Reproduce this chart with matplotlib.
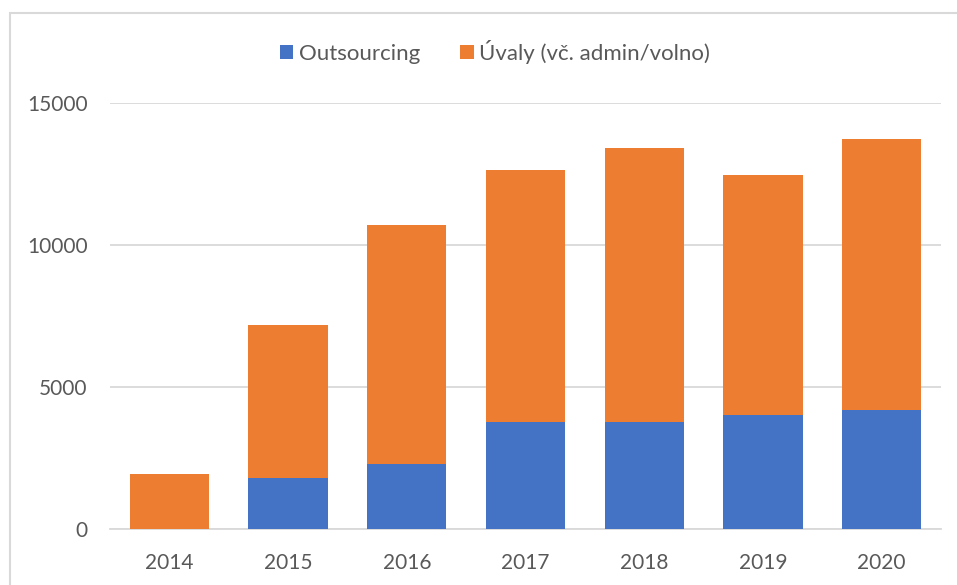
import matplotlib.pyplot as plt
from matplotlib.patches import Rectangle
import numpy as np

plt.rcParams['font.family'] = ['Lato', 'DejaVu Sans']

years = ["2014", "2015", "2016", "2017", "2018", "2019", "2020"]
outsourcing = [0, 1800, 2300, 3780, 3780, 4000, 4200]
uvaly = [1930, 5400, 8400, 8860, 9650, 8470, 9540]

BLUE, ORANGE, GRID, TXT = "#4472C4", "#ED7D31", "#D9D9D9", "#595959"

fig = plt.figure(figsize=(9.57, 5.85), dpi=100)
ax = fig.add_axes([110 / 957, 56 / 585, 831 / 957, 426 / 585])

x = np.arange(len(years))
ax.bar(x, outsourcing, width=0.667, color=BLUE, label="Outsourcing", zorder=3)
ax.bar(x, uvaly, width=0.667, bottom=outsourcing, color=ORANGE,
       label="Úvaly (vč. admin/volno)", zorder=3)

ax.set_xlim(-0.5, len(years) - 0.5)
ax.set_ylim(0, 15000)
ax.set_yticks([0, 5000, 10000, 15000])
ax.set_xticks(x, years)
ax.yaxis.grid(True, color=GRID, lw=1.3, zorder=0)
for s in ("top", "right", "left"):
    ax.spines[s].set_visible(False)
ax.spines["bottom"].set_color(GRID)
ax.spines["bottom"].set_linewidth(1.3)
ax.tick_params(length=0, labelsize=15, colors=TXT)
ax.tick_params(axis="y", pad=16)
ax.tick_params(axis="x", pad=17)

fig.legend(loc="center", bbox_to_anchor=(495 / 957, 1 - 52 / 585), ncol=2,
           frameon=False, fontsize=16, labelcolor=TXT, handlelength=0.6,
           handleheight=0.6, handletextpad=0.25, columnspacing=1.8)

# chart border (bottom and right run off the image)
fig.patches.append(Rectangle((10 / 957, -0.2), 1.2, 1.2 - 13 / 585, transform=fig.transFigure,
                             fill=False, edgecolor=GRID, lw=1.5))

fig.savefig("out.png", dpi=100, facecolor="white")
